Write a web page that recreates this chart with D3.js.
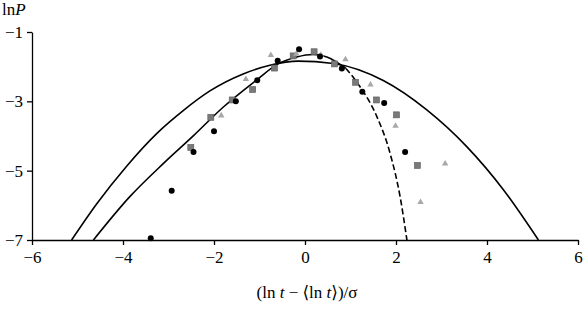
<!DOCTYPE html>
<html>
<head>
<meta charset="utf-8">
<script src="https://cdn.jsdelivr.net/npm/d3@7"></script>
<style>
  body { margin: 0; background: #fff; }
  svg { display: block; }
  svg text { font-family: "Liberation Serif", "DejaVu Serif", serif !important; }
</style>
</head>
<body>
<div id="chart"></div>
<script>
// black circles
const circleX = [-3.39, -2.93, -2.45, -2.0, -1.52, -1.05, -0.60, -0.13, 0.33, 0.81, 1.26, 1.74, 2.20];
const circleY = [-6.95, -5.58, -4.46, -3.86, -3.0, -2.39, -1.83, -1.50, -1.71, -2.05, -2.72, -3.05, -4.46];

// grey squares
const squareX = [-2.51, -2.07, -1.60, -1.15, -0.67, -0.26, 0.20, 0.65, 1.11, 1.57, 2.01, 2.47];
const squareY = [-4.33, -3.46, -2.96, -2.66, -2.04, -1.69, -1.57, -1.92, -2.45, -2.96, -3.39, -4.85];

// light grey triangles
const triX = [-1.84, -1.30, -0.75, -0.19, 0.35, 0.89, 1.44, 1.99, 2.54, 3.08];
const triY = [-3.41, -2.36, -1.67, -1.63, -1.66, -1.79, -2.52, -3.71, -5.91, -4.80];

// wide solid curve
const wideX = [-5.13, -4.58, -3.92, -3.26, -2.67, -2.09, -1.36, -0.77, -0.15, 0.62, 1.72, 2.67, 3.55, 4.36, 5.13];
const wideY = [-7.0, -5.96, -4.87, -3.93, -3.26, -2.70, -2.21, -1.96, -1.84, -1.91, -2.40, -3.24, -4.30, -5.55, -7.0];

// narrow curve, solid part
const narrowX = [-4.65, -3.85, -3.11, -2.45, -1.80, -1.06, -0.62, -0.18, 0.18, 0.48, 0.90];
const narrowY = [-7.0, -5.75, -4.79, -3.99, -3.17, -2.38, -1.94, -1.72, -1.65, -1.72, -2.05];

// narrow curve, dashed part
const dashX = [0.90, 1.21, 1.58, 1.87, 2.09, 2.24];
const dashY = [-2.05, -2.58, -3.44, -4.50, -5.75, -7.0];

const xTicks = [-6, -4, -2, 0, 2, 4, 6];
const yTicks = [-1, -3, -5, -7];

const width = 586, height = 309;
const svg = d3.select("#chart").append("svg")
  .attr("width", width)
  .attr("height", height);

const x = d3.scaleLinear().domain([-6, 6]).range([32, 578]);
const y = d3.scaleLinear().domain([-7, -1]).range([240, 32]);

const fmt = d => d < 0 ? "\u2212" + Math.abs(d) : String(d);

// axes
const xAxis = svg.append("g")
  .attr("transform", `translate(0,${y(-7)})`)
  .call(d3.axisBottom(x).tickValues(xTicks).tickSize(5).tickSizeOuter(0).tickFormat(fmt));
xAxis.select(".domain").attr("stroke-width", 1.3);
xAxis.selectAll(".tick line").attr("stroke-width", 1.3);
xAxis.selectAll("text")
  .style("font-size", "17px")
  .attr("dy", "0.9em");

const yAxis = svg.append("g")
  .attr("transform", `translate(${x(-6)},0)`)
  .call(d3.axisLeft(y).tickValues(yTicks).tickSize(5).tickSizeOuter(0).tickFormat(fmt));
yAxis.select(".domain").attr("stroke-width", 1.3);
yAxis.selectAll(".tick line").attr("stroke-width", 1.3);
yAxis.selectAll("text")
  .style("font-size", "17px")
  .attr("x", -9);

// curves
const line = d3.line()
  .x(d => x(d[0]))
  .y(d => y(d[1]))
  .curve(d3.curveMonotoneX);

const plot = svg.append("g");

plot.append("path")
  .datum(d3.zip(wideX, wideY))
  .attr("fill", "none")
  .attr("stroke", "#000")
  .attr("stroke-width", 1.6)
  .attr("d", line);

plot.append("path")
  .datum(d3.zip(narrowX, narrowY))
  .attr("fill", "none")
  .attr("stroke", "#000")
  .attr("stroke-width", 1.6)
  .attr("d", line);

plot.append("path")
  .datum(d3.zip(dashX, dashY))
  .attr("fill", "none")
  .attr("stroke", "#000")
  .attr("stroke-width", 1.6)
  .attr("stroke-dasharray", "6,3")
  .attr("d", line);

// markers
plot.selectAll(".sq")
  .data(d3.zip(squareX, squareY))
  .join("rect")
  .attr("class", "sq")
  .attr("x", d => x(d[0]) - 3)
  .attr("y", d => y(d[1]) - 3)
  .attr("width", 6)
  .attr("height", 6)
  .attr("fill", "#7a7a7a")
  .attr("stroke", "#5a5a5a")
  .attr("stroke-width", 0.6);

const tri = d3.symbol().type(d3.symbolTriangle).size(18);
plot.selectAll(".tri")
  .data(d3.zip(triX, triY))
  .join("path")
  .attr("class", "tri")
  .attr("transform", d => `translate(${x(d[0])},${y(d[1])})`)
  .attr("d", tri)
  .attr("fill", "#a8a8a8");

plot.selectAll(".dot")
  .data(d3.zip(circleX, circleY))
  .join("circle")
  .attr("class", "dot")
  .attr("cx", d => x(d[0]))
  .attr("cy", d => y(d[1]))
  .attr("r", 3)
  .attr("fill", "#000");

// axis titles
const yTitle = svg.append("text")
  .attr("x", 2)
  .attr("y", 15)
  .style("font-size", "17px");
yTitle.append("tspan").text("ln");
yTitle.append("tspan").attr("font-style", "italic").text("P");

const xTitle = svg.append("text")
  .attr("x", 307)
  .attr("y", 298)
  .attr("text-anchor", "middle")
  .style("font-size", "17px");
xTitle.append("tspan").text("(ln ");
xTitle.append("tspan").attr("font-style", "italic").text("t");
xTitle.append("tspan").text(" \u2212 \u27E8ln ");
xTitle.append("tspan").attr("font-style", "italic").text("t");
xTitle.append("tspan").text("\u27E9)/\u03C3");
</script>
</body>
</html>
